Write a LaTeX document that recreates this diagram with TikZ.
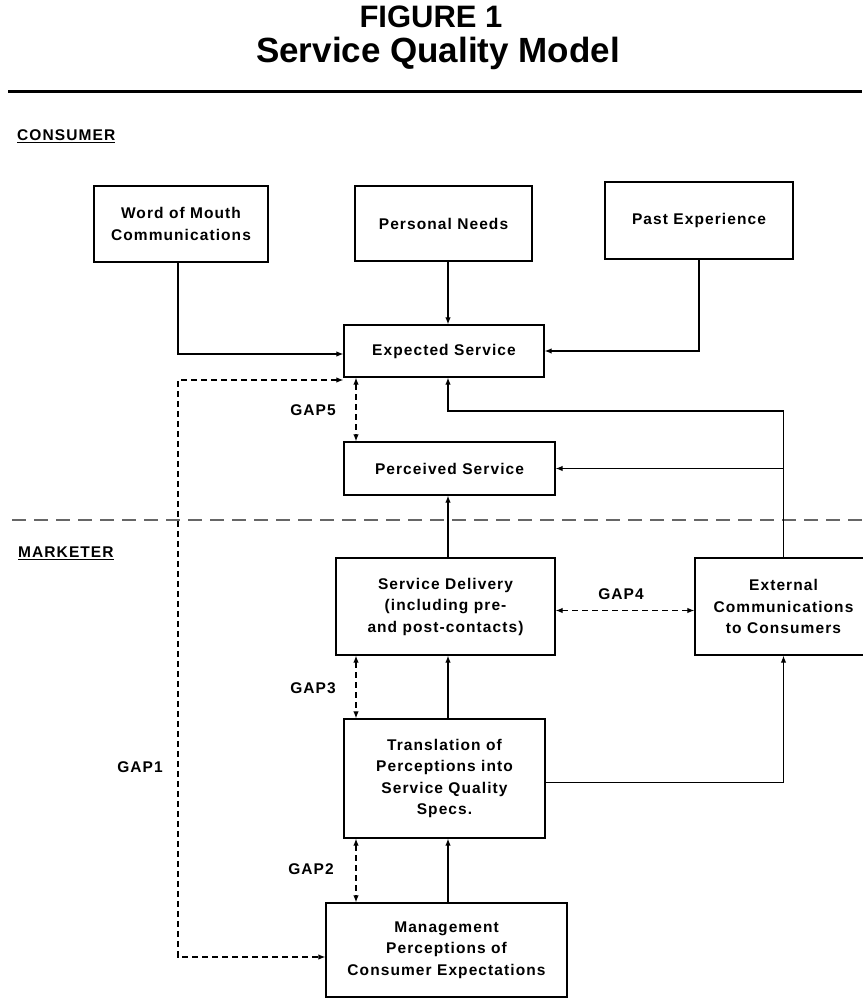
\documentclass[tikz,border=0pt]{standalone}
\usepackage{fontspec}
\setmainfont{Liberation Sans}
\newfontfamily\spacedfont[LetterSpace=7]{Liberation Sans}
\usetikzlibrary{arrows.meta}
\begin{document}
\begin{tikzpicture}[x=1pt,y=-1pt,
 box/.style={draw, line width=1.3pt, align=center, inner sep=0pt, font=\spacedfont\fontsize{15.5}{21.5}\selectfont\bfseries},
 conn/.style={line width=1.2pt, -{Latex[length=7pt,width=5.5pt]}},
 gap/.style={line width=1.2pt, dash pattern=on 6pt off 4pt, {Latex[length=7pt,width=5.5pt]}-{Latex[length=7pt,width=5.5pt]}},
 divider/.style={line width=1.3pt, gray!80!black, dash pattern=on 14pt off 8pt},
 lbl/.style={font=\spacedfont\fontsize{15.5}{20}\selectfont\bfseries, inner sep=0pt},
 ttl/.style={font=\fontsize{31}{36}\selectfont\bfseries, inner sep=0pt}
]
\useasboundingbox (0,0) rectangle (862,1000);
% title
\node[ttl] (t1) at (431,17) {FIGURE 1};
\node[ttl, font=\fontsize{35}{40}\selectfont\bfseries] (t2) at (438,53) {Service Quality Model};
\coordinate (rl) at (8,92);
\coordinate (rr) at (862,92);
\draw[line width=3pt] (rl) -- (rr);
% side labels
\node[lbl, anchor=west] (cons) at (17,136) {\underline{CONSUMER}};
\node[lbl, anchor=west] (mark) at (18,553) {\underline{MARKETER}};
% boxes
\node[box, minimum width=174pt, minimum height=76pt] (wom) at (181,224) {Word of Mouth\\Communications};
\node[box, minimum width=177pt, minimum height=75pt] (pn) at (443.5,223.5) {Personal Needs};
\node[box, minimum width=188pt, minimum height=77pt] (pe) at (699,220.5) {Past Experience};
\node[box, minimum width=200pt, minimum height=52pt] (es) at (444,351) {Expected Service};
\node[box, minimum width=211pt, minimum height=53pt] (ps) at (449.5,468.5) {Perceived Service};
\node[box, minimum width=219pt, minimum height=97pt] (sd) at (445.5,606.5) {Service Delivery\\(including pre-\\and post-contacts)};
\node[box, minimum width=177pt, minimum height=97pt] (ec) at (783.5,606.5) {External\\Communications\\to Consumers};
\node[box, minimum width=201pt, minimum height=119pt] (tr) at (444.5,778.5) {Translation of\\Perceptions into\\Service Quality\\Specs.};
\node[box, minimum width=241pt, minimum height=94pt] (mg) at (446.5,950) {Management\\Perceptions of\\Consumer Expectations};
% divider
\coordinate (dl) at (12,520);
\coordinate (dr) at (862,520);
\draw[divider] (dl) -- (dr);
% coordinates
\coordinate (cx) at (448,0);
\coordinate (gx) at (356,0);
\coordinate (fb) at (448,411);
\coordinate (g1t) at (178,380);
\coordinate (g1b) at (178,957);
% consumer arrows
\draw[conn] ([xshift=-3pt]wom.south) |- ([yshift=-3pt]es.west);
\draw[conn] (pn.south -| cx) -- (es.north -| cx);
\draw[conn] (pe.south) |- (es.east);
\draw[conn] (ec.north) |- (fb) -- (fb |- es.south);
\draw[conn] (ec.north |- ps.east) -- (ps.east);
% marketer arrows
\draw[conn] (sd.north -| cx) -- (ps.south -| cx);
\draw[conn] (tr.north -| cx) -- (sd.south -| cx);
\draw[conn] (mg.north -| cx) -- (tr.south -| cx);
\draw[conn] ([yshift=-4pt]tr.east) -| (ec.south);
% gaps
\draw[gap] (es.south -| gx) -- (ps.north -| gx);
\draw[gap] (sd.south -| gx) -- (tr.north -| gx);
\draw[gap] (tr.south -| gx) -- (mg.north -| gx);
\draw[gap] ([yshift=-4pt]sd.east) -- ([yshift=-4pt]sd.east -| ec.west);
\draw[gap] (g1t -| es.west) -- (g1t) -- (g1b) -- (g1b -| mg.west);
% gap labels
\node[lbl] (gap5) at (313,410) {GAP5};
\node[lbl] (gap4) at (621,594) {GAP4};
\node[lbl] (gap3) at (313,688) {GAP3};
\node[lbl] (gap2) at (311,869) {GAP2};
\node[lbl] (gap1) at (140,767) {GAP1};
\end{tikzpicture}
\end{document}
